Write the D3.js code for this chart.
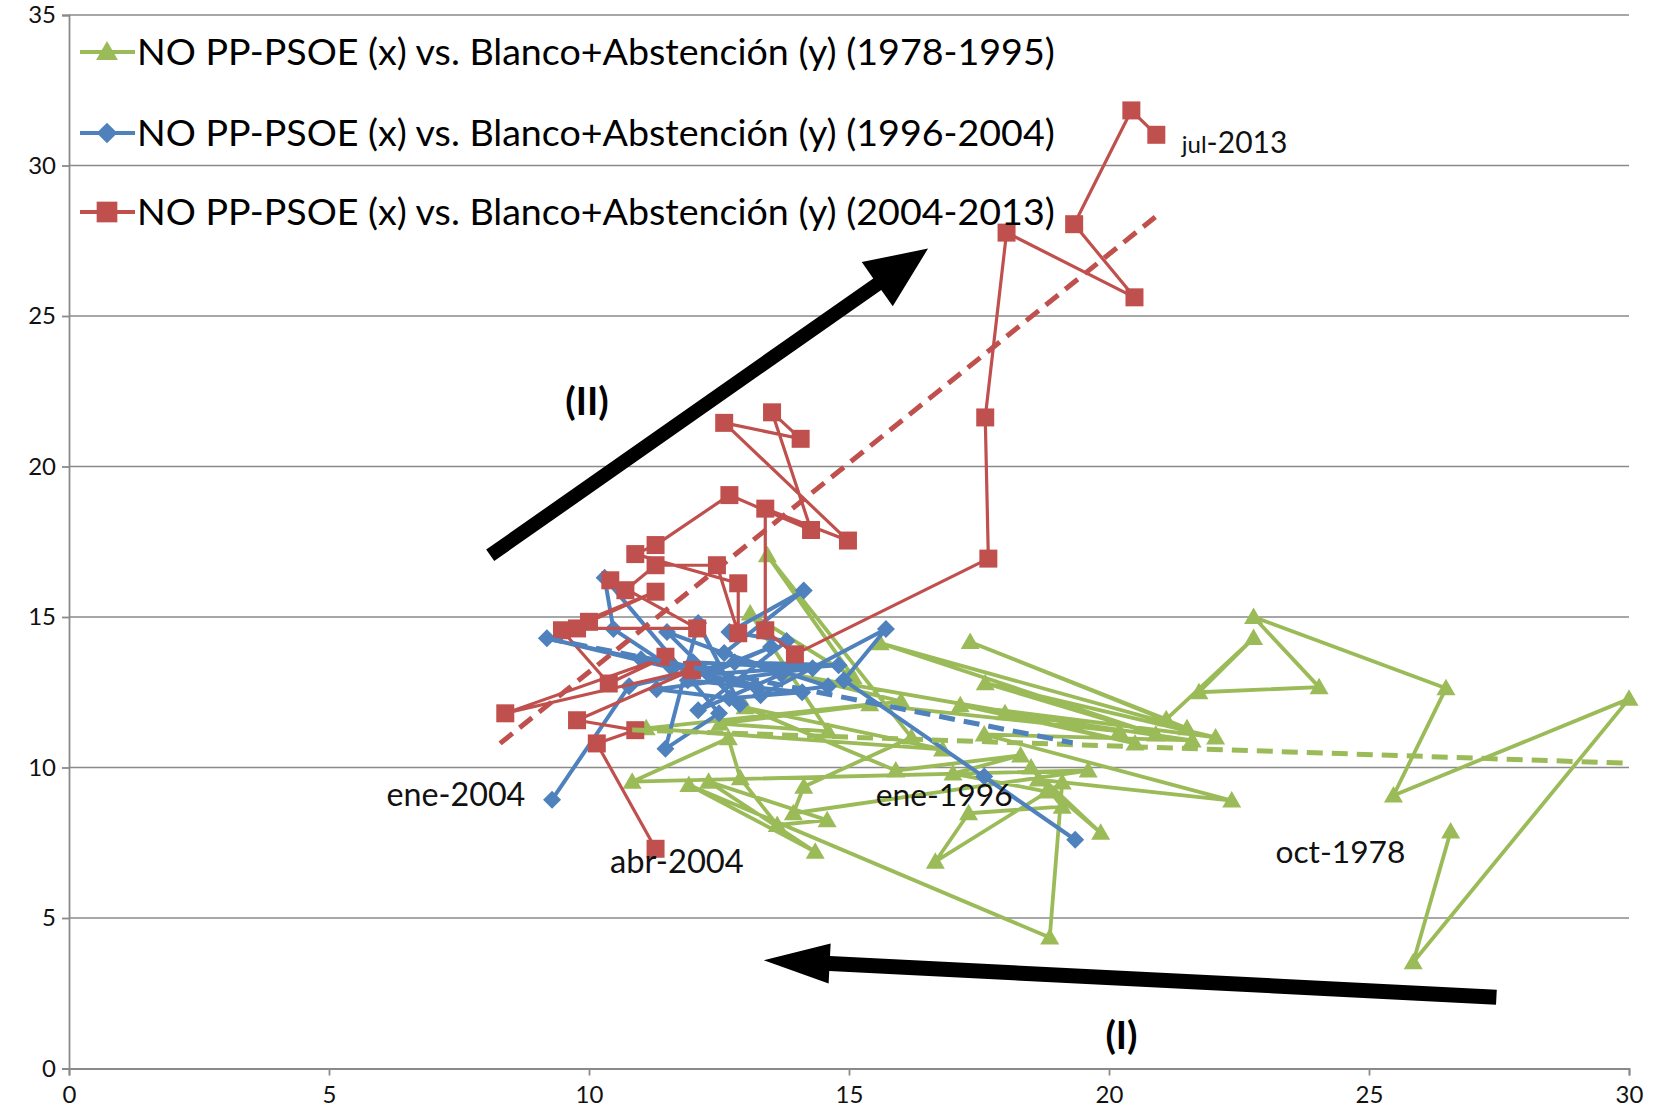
<!DOCTYPE html>
<html><head><meta charset="utf-8">
<script src="https://cdn.jsdelivr.net/npm/d3@7"></script>
<style>body{margin:0;background:#fff}svg{display:block}</style>
</head><body>
<svg id="chart" width="1657" height="1116"></svg>
<script>
// ---------- DATA ----------
const seriesNames = [
  "NO PP-PSOE (x) vs. Blanco+Abstención (y) (1978-1995)",
  "NO PP-PSOE (x) vs. Blanco+Abstención (y) (1996-2004)",
  "NO PP-PSOE (x) vs. Blanco+Abstención (y) (2004-2013)"
];
const xTicks = [0, 5, 10, 15, 20, 25, 30];
const yTicks = [0, 5, 10, 15, 20, 25, 30, 35];

// 1978-1995 (x = NO PP-PSOE, y = Blanco+Abstención)
const green = [
  [26.57,7.87],[25.85,3.53],[30.00,12.28],[25.47,9.07],[26.48,12.63],[22.78,15.00],
  [24.04,12.67],[21.73,12.50],[22.78,14.30],[21.10,11.60],[17.33,14.17],[21.50,11.30],
  [15.60,14.13],[20.90,11.10],[17.62,12.80],[22.05,11.00],[17.14,12.07],[20.50,10.80],
  [18.00,11.80],[21.60,10.90],[17.60,11.10],[22.36,8.90],[18.64,9.60],[19.84,7.83],
  [18.50,10.00],[19.10,8.70],[17.30,8.48],[16.66,6.87],[19.10,9.50],[18.86,4.35],
  [11.92,9.42],[14.35,7.20],[12.30,9.53],[14.58,8.25],[13.62,8.09],[12.91,9.64],
  [12.68,10.97],[10.83,9.53],[19.60,9.90],[13.93,8.48],[14.13,9.36],[16.20,11.00],
  [13.43,17.05],[15.08,13.00],[13.10,15.12],[14.60,11.20],[12.52,11.46],[16.00,12.20],
  [13.81,13.12],[20.20,11.20],[15.40,12.10],[11.10,11.30],[16.80,10.60],[13.00,12.00],
  [15.90,9.90],[18.30,10.40],[17.00,9.80],[18.80,9.20]
];
// 1996-2004
const blue = [
  [17.60,9.70],[19.35,7.60],[14.90,12.90],[15.71,14.60],[13.30,12.40],[14.60,12.70],
  [12.60,13.80],[14.13,15.88],[12.70,14.50],[13.80,14.20],[12.10,11.90],[13.70,13.10],
  [11.50,14.50],[12.90,12.10],[12.10,14.80],[11.47,10.62],[12.50,11.80],[10.30,16.30],
  [10.47,14.60],[11.60,13.30],[9.19,14.29],[11.00,13.60],[13.20,12.70],[12.00,13.50],
  [14.30,13.30],[11.30,12.60],[12.70,12.30],[14.10,12.50],[11.90,12.90],[13.50,14.00],
  [12.30,13.10],[14.80,13.40],[12.80,13.50],[10.77,12.70],[9.29,8.93]
];
// 2004-2013
const red = [
  [11.28,7.30],[10.15,10.80],[10.89,11.24],[9.77,11.57],[11.98,13.24],[8.39,11.80],
  [11.47,13.68],[10.38,12.79],[9.48,14.56],[11.28,15.84],[10.00,14.84],[9.77,14.62],
  [12.08,14.62],[10.41,16.22],[10.70,15.89],[11.28,16.72],[12.46,16.72],[12.87,14.46],
  [12.87,16.12],[10.89,17.09],[11.28,17.39],[12.70,19.05],[14.27,17.89],[13.52,21.80],
  [14.07,20.92],[12.60,21.45],[14.98,17.54],[13.39,18.60],[13.39,14.56],[13.96,13.76],
  [17.68,16.94],[17.62,21.63],[18.03,27.77],[20.49,25.62],[19.33,28.05],[20.43,31.83],
  [20.91,31.02]
];
// linear trendline end points (as drawn)
const trendGreen = [[10.83,11.25],[30.00,10.14]];
const trendBlue  = [[9.19,14.29],[19.30,10.82]];
const trendRed   = [[8.29,10.80],[20.89,28.29]];

// point labels
const labelTexts = ["ene-2004","abr-2004","ene-1996","oct-1978","jul-2013"];
const labelX     = [7.44, 11.69, 16.83, 24.45, 21.40];
const labelY     = [9.09, 6.88, 9.09, 7.20, 30.75];

// annotation arrows & their captions
const arrowII = [[8.10,17.05],[16.52,27.24]];
const arrowI  = [[27.45,2.37],[13.36,3.60]];
const captionTexts = ["(II)","(I)"];
const captionX = [9.96, 20.24];
const captionY = [22.15, 1.09];

// ---------- CHART ----------
const colors = ["#9BBB59","#4F81BD","#C0504D"];
const svg = d3.select("#chart");
const x = d3.scaleLinear().domain([0,30]).range([69,1629]);
const y = d3.scaleLinear().domain([0,35]).range([1068.5,15]);
const FONT = "Lato, 'Open Sans', sans-serif";
const gridColor = "#8a8a8a";

// gridlines
svg.append("g").selectAll("line").data(yTicks.filter(d=>d>0)).join("line")
  .attr("x1",x(0)).attr("x2",x(30)).attr("y1",d=>y(d)).attr("y2",d=>y(d))
  .attr("stroke",gridColor).attr("stroke-width",1.6);

// axes
const yAxis = d3.axisLeft(y).tickValues(yTicks).tickSize(7).tickPadding(6);
const xAxis = d3.axisBottom(x).tickValues(xTicks).tickSize(7).tickPadding(10);
const gy = svg.append("g").attr("transform",`translate(${x(0)},0)`).call(yAxis);
const gx = svg.append("g").attr("transform",`translate(0,${y(0)})`).call(xAxis);
[gx,gy].forEach(g=>{
  g.attr("font-family",FONT).attr("font-size",24);
  g.select(".domain").attr("stroke",gridColor).attr("stroke-width",1.8);
  g.selectAll(".tick line").attr("stroke",gridColor).attr("stroke-width",1.8);
  g.selectAll(".tick text").style("font-size","24px").style("font-family",FONT).attr("fill","#111");
});

// markers
const markerPath = [
  "M0,-9.5L9.5,7L-9.5,7Z",              // triangle
  "M0,-9L9,0L0,9L-9,0Z",                // diamond
  "M-9,-9H9V9H-9Z"                      // square
];
const line = d3.line().x(d=>x(d[0])).y(d=>y(d[1]));
const allSeries = [green, blue, red];
const lineW = [3.8, 4, 3.2];
allSeries.forEach((s,i)=>{
  const g = svg.append("g");
  g.append("path").attr("d",line(s)).attr("fill","none")
    .attr("stroke",colors[i]).attr("stroke-width",lineW[i]).attr("stroke-linejoin","round");
  g.selectAll("path.m").data(s).join("path").attr("class","m")
    .attr("d",markerPath[i]).attr("transform",d=>`translate(${x(d[0])},${y(d[1])})`)
    .attr("fill",colors[i]);
});

// trendlines
[trendGreen, trendBlue, trendRed].forEach((t,i)=>{
  svg.append("path").attr("d",line(t)).attr("fill","none")
    .attr("stroke",colors[i]).attr("stroke-width",5).attr("stroke-dasharray","16,9");
});

// helper to fit text to a width
function fit(sel, w){
  const l = sel.node().getComputedTextLength();
  const fs = +sel.attr("font-size");
  sel.attr("font-size", fs*w/l);
}

// legend
const legY = [52, 133, 212];
seriesNames.forEach((name,i)=>{
  const g = svg.append("g").attr("transform",`translate(0,${legY[i]})`);
  g.append("line").attr("x1",80).attr("x2",135).attr("y1",0).attr("y2",0)
    .attr("stroke",colors[i]).attr("stroke-width",3.8);
  g.append("path").attr("d",markerPath[i]).attr("transform","translate(107,0) scale(1.15)").attr("fill",colors[i]);
  const t = g.append("text").attr("x",137).attr("y",0).attr("dy","0.35em")
    .attr("font-family",FONT).attr("font-size",34).attr("fill","#000").text(name);
  fit(t, 918);
});

// point labels
const labelW = [139, 134, 137, 130, 113];
labelTexts.forEach((t,i)=>{
  const anchor = i===4 ? "start" : "middle";
  const txt = svg.append("text").attr("x",x(labelX[i])).attr("y",y(labelY[i])).attr("dy","0.35em")
    .attr("text-anchor",anchor).attr("font-family",FONT).attr("font-size",30).attr("fill","#111");
  if(i===4){
    txt.append("tspan").attr("font-size",24).text(t.slice(0,3));
    txt.append("tspan").text(t.slice(3));
  } else {
    txt.text(t);
    fit(txt, labelW[i]);
  }
});

// arrows
function arrow(a, shaft, headLen, headHalf){
  const x0=x(a[0][0]), y0=y(a[0][1]), x1=x(a[1][0]), y1=y(a[1][1]);
  const dx=x1-x0, dy=y1-y0, L=Math.hypot(dx,dy), ux=dx/L, uy=dy/L, px=-uy, py=ux;
  const bx=x1-ux*headLen, by=y1-uy*headLen, h=shaft/2;
  const pts=[[x0+px*h,y0+py*h],[bx+px*h,by+py*h],[bx+px*headHalf,by+py*headHalf],[x1,y1],
             [bx-px*headHalf,by-py*headHalf],[bx-px*h,by-py*h],[x0-px*h,y0-py*h]];
  svg.append("polygon").attr("points",pts.map(p=>p.join(",")).join(" ")).attr("fill","#000");
}
arrow(arrowII, 14, 62, 27);
arrow(arrowI, 15, 66, 20);

captionTexts.forEach((t,i)=>{
  svg.append("text").attr("x",x(captionX[i])).attr("y",y(captionY[i])).attr("dy","0.35em")
    .attr("text-anchor","middle").attr("font-family",FONT).attr("font-weight","bold")
    .attr("font-size",38).attr("fill","#000").text(t);
});
</script>
</body></html>
